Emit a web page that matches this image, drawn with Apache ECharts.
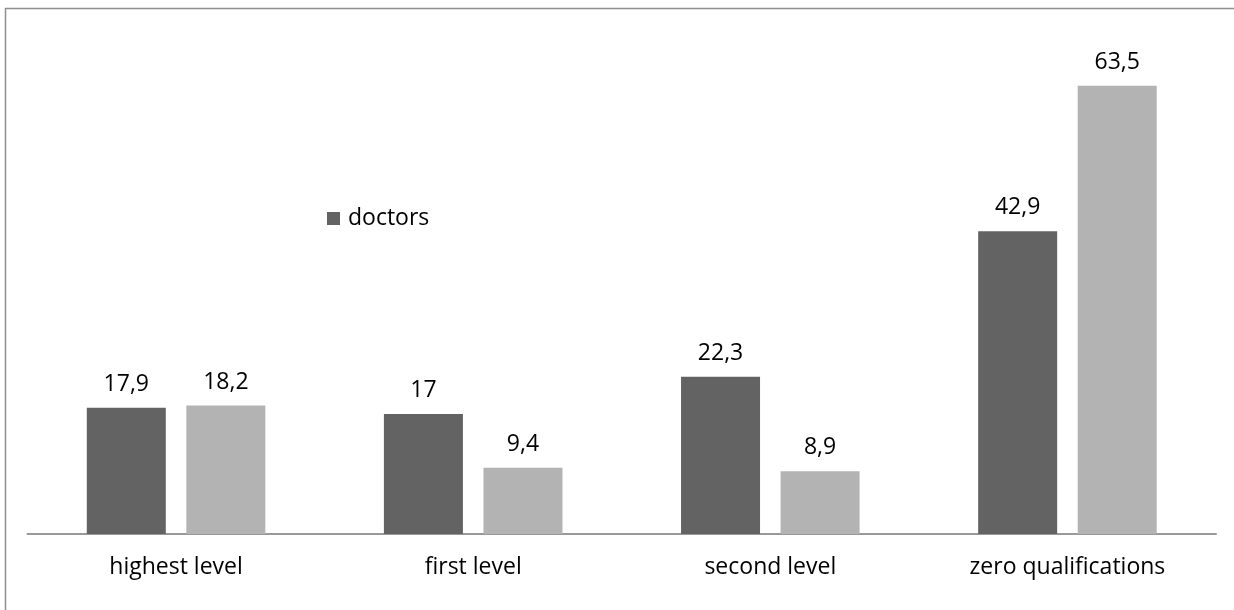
<!DOCTYPE html>
<html>
<head>
<meta charset="utf-8">
<script src="https://cdn.jsdelivr.net/npm/echarts@6/dist/echarts.min.js"></script>
<style>
  html, body { margin: 0; padding: 0; background: #fff; }
  #chart { width: 1234px; height: 610px; }
</style>
</head>
<body>
<div id="chart"></div>
<script>
// Qualification levels and the two compared groups (percent)
const categories = ['highest level', 'first level', 'second level', 'zero qualifications'];
const doctors = [17.9, 17, 22.3, 42.9];
const others = [18.2, 9.4, 8.9, 63.5];

const FONT = '"Open Sans", "Noto Sans", sans-serif';

const fmt = p => String(p.value).replace('.', ',');

const chart = echarts.init(document.getElementById('chart'), null, { renderer: 'canvas' });

chart.setOption({
  animation: false,
  backgroundColor: '#ffffff',
  graphic: [{
    type: 'rect',
    shape: { x: 5.5, y: 8.5, width: 1400, height: 800 },
    style: { fill: 'none', stroke: '#8f8f8f', lineWidth: 1.5 },
    silent: true,
    z: -1
  }],
  grid: { left: 27.5, right: 18, top: 40, bottom: 76, containLabel: false },
  legend: {
    data: ['doctors'],
    left: 322,
    top: 202,
    itemWidth: 13,
    itemHeight: 13,
    icon: 'rect',
    textStyle: { fontFamily: FONT, fontSize: 23, color: '#000', padding: [0, 0, 0, 3] }
  },
  xAxis: {
    type: 'category',
    data: categories,
    axisLine: { lineStyle: { color: '#999999', width: 2 } },
    axisTick: { show: false },
    axisLabel: { fontFamily: FONT, fontSize: 23, color: '#000', margin: 22 }
  },
  yAxis: {
    type: 'value',
    min: 0,
    max: 70,
    show: false,
    splitLine: { show: false }
  },
  series: [
    {
      name: 'doctors',
      type: 'bar',
      data: doctors,
      barWidth: 79,
      barGap: '26%',
      itemStyle: { color: '#636363' },
      label: { show: true, position: 'top', distance: 12, formatter: fmt,
               fontFamily: FONT, fontSize: 23, color: '#000' }
    },
    {
      name: 'others',
      type: 'bar',
      data: others,
      barWidth: 79,
      itemStyle: { color: '#b3b3b3' },
      label: { show: true, position: 'top', distance: 12, formatter: fmt,
               fontFamily: FONT, fontSize: 23, color: '#000' }
    }
  ]
});
</script>
</body>
</html>
